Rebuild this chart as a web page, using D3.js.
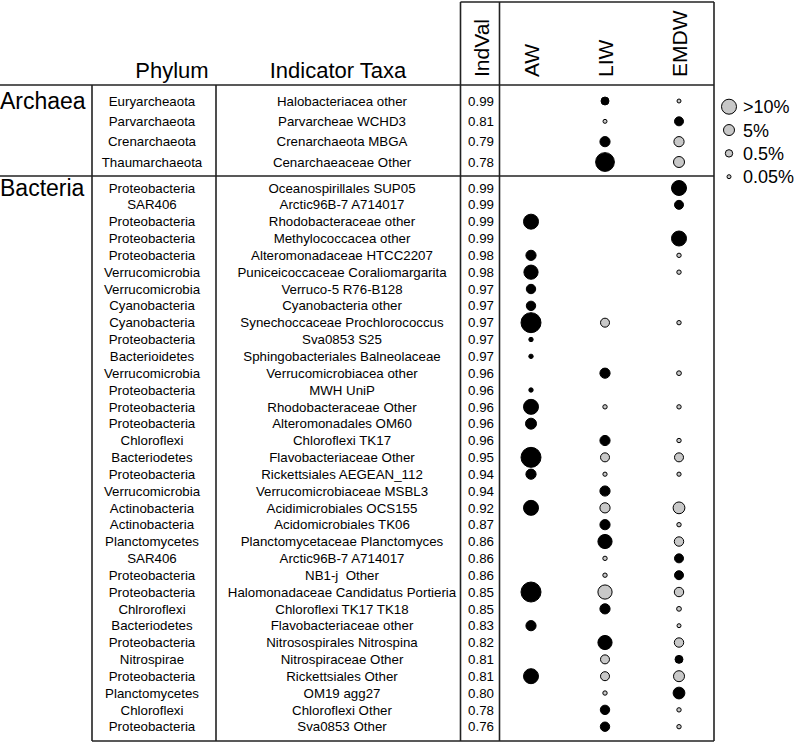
<!DOCTYPE html>
<html>
<head>
<meta charset="utf-8">
<script src="https://cdn.jsdelivr.net/npm/d3@7"></script>
<style>
  body { margin: 0; background: #fff; }
  text { font-family: "Liberation Sans", Arial, sans-serif; fill: #000; white-space: pre; }
</style>
</head>
<body>
<div id="chart"></div>
<script>
// water masses (columns)
const waterMasses = ["AW", "LIW", "EMDW"];

// Archaea block
const archaeaPhyla = ["Euryarcheaota", "Parvarchaeota", "Crenarchaeota", "Thaumarchaeota"];
const archaeaTaxa = ["Halobacteriacea other", "Parvarcheae WCHD3", "Crenarchaeota MBGA", "Cenarchaeaceae Other"];
const archaeaIndVal = ["0.99", "0.81", "0.79", "0.78"];
const archaeaIndicator = ["LIW", "EMDW", "LIW", "LIW"];
const archaeaAW = [null, null, null, null];
const archaeaLIW = [1.2, 0.05, 4, 25];
const archaeaEMDW = [0.05, 2.5, 4, 5];

// Bacteria block
const bacteriaPhyla = ["Proteobacteria", "SAR406", "Proteobacteria", "Proteobacteria", "Proteobacteria",
  "Verrucomicrobia", "Verrucomicrobia", "Cyanobacteria", "Cyanobacteria", "Proteobacteria",
  "Bacterioidetes", "Verrucomicrobia", "Proteobacteria", "Proteobacteria", "Proteobacteria",
  "Chloroflexi", "Bacteriodetes", "Proteobacteria", "Verrucomicrobia", "Actinobacteria",
  "Actinobacteria", "Planctomycetes", "SAR406", "Proteobacteria", "Proteobacteria",
  "Chlroroflexi", "Bacteriodetes", "Proteobacteria", "Nitrospirae", "Proteobacteria",
  "Planctomycetes", "Chloroflexi", "Proteobacteria"];
const bacteriaTaxa = ["Oceanospirillales SUP05", "Arctic96B-7 A714017", "Rhodobacteraceae other",
  "Methylococcacea other", "Alteromonadaceae HTCC2207", "Puniceicoccaceae Coraliomargarita",
  "Verruco-5 R76-B128", "Cyanobacteria other", "Synechoccaceae Prochlorococcus", "Sva0853 S25",
  "Sphingobacteriales Balneolaceae", "Verrucomicrobiacea other", "MWH UniP", "Rhodobacteraceae Other",
  "Alteromonadales OM60", "Chloroflexi TK17", "Flavobacteriaceae Other", "Rickettsiales AEGEAN_112",
  "Verrucomicrobiaceae MSBL3", "Acidimicrobiales OCS155", "Acidomicrobiales TK06",
  "Planctomycetaceae Planctomyces", "Arctic96B-7 A714017", "NB1-j  Other",
  "Halomonadaceae Candidatus Portieria", "Chloroflexi TK17 TK18", "Flavobacteriaceae other",
  "Nitrosospirales Nitrospina", "Nitrospiraceae Other", "Rickettsiales Other", "OM19 agg27",
  "Chloroflexi Other", "Sva0853 Other"];
const bacteriaIndVal = ["0.99", "0.99", "0.99", "0.99", "0.98", "0.98", "0.97", "0.97", "0.97", "0.97",
  "0.97", "0.96", "0.96", "0.96", "0.96", "0.96", "0.95", "0.94", "0.94", "0.92", "0.87", "0.86",
  "0.86", "0.86", "0.85", "0.85", "0.83", "0.82", "0.81", "0.81", "0.80", "0.78", "0.76"];
const bacteriaIndicator = ["EMDW", "EMDW", "AW", "EMDW", "AW", "AW", "AW", "AW", "AW", "AW",
  "AW", "LIW", "AW", "AW", "AW", "LIW", "AW", "AW", "LIW", "AW", "LIW", "LIW",
  "EMDW", "EMDW", "AW", "LIW", "AW", "LIW", "EMDW", "AW", "EMDW", "LIW", "LIW"];
// relative abundance (%) per water mass, null = not shown
const bacteriaAW = [null, null, 10, null, 4, 9, 3, 3, 30, 0.1,
  0.1, null, 0.1, 10, 5, null, 30, 4, null, 10, null, null,
  null, null, 30, null, 4, null, null, 10, null, null, null];
const bacteriaLIW = [null, null, null, null, null, null, null, null, 2.5, null,
  null, 4, null, 0.1, null, 4, 2.5, 0.08, 4, 4, 4, 9,
  0.1, 0.1, 9, 4, null, 9, 2.5, 2.5, 0.1, 3, 3];
const bacteriaEMDW = [10, 2.5, null, 10, 0.1, 0.1, null, null, 0.1, null,
  null, 0.15, null, 0.1, null, 0.1, 2.5, 0.08, null, 6, 0.1, 3,
  2.5, 2.5, 3, 0.15, 0.05, 3, 1.2, 5, 6, 0.1, 0.1];

// legend
const legendLabels = [">10%", "5%", "0.5%", "0.05%"];
const legendValues = [10, 5, 0.5, 0.05];

const width = 799, height = 743;
const svg = d3.select("#chart").append("svg")
  .attr("width", width).attr("height", height);

const xPhylum = 152, xTaxa = 342, xInd = 481;
const xLeft = 92, xMid = 216, xIndL = 460.5, xIndR = 499.5, xRight = 714;
const yTop = 2, yHead = 85, ySplit = 176, yBottom = 741;

const x = d3.scalePoint().domain(waterMasses).range([531, 679]);
const yA = d3.scaleLinear().domain([0, archaeaTaxa.length - 1]).range([101, 162]);
const yB = d3.scaleLinear().domain([0, bacteriaTaxa.length - 1]).range([188, 726.7]);
const r = d3.scaleLinear().domain([0.05, 0.5, 5, 10, 30]).range([2, 3.7, 5.5, 7.5, 10]).clamp(true);

// grid lines
const lines = [
  [xIndL, yTop, xRight, yTop],
  [0, yHead, xRight, yHead],
  [0, ySplit, xRight, ySplit],
  [xLeft, yBottom, xRight, yBottom],
  [xLeft, yHead, xLeft, yBottom],
  [xMid, yHead, xMid, yBottom],
  [xIndL, yTop, xIndL, yBottom],
  [xIndR, yTop, xIndR, yBottom],
  [xRight, yTop, xRight, yBottom]
];
svg.selectAll("line.grid").data(lines).enter().append("line")
  .attr("class", "grid")
  .attr("x1", d => d[0]).attr("y1", d => d[1])
  .attr("x2", d => d[2]).attr("y2", d => d[3])
  .attr("stroke", "#222").attr("stroke-width", 1.6);

// headers
svg.append("text").attr("x", xPhylum + 20).attr("y", 78).attr("text-anchor", "middle")
  .style("font-size", "22px").text("Phylum");
svg.append("text").attr("x", xTaxa - 4).attr("y", 78).attr("text-anchor", "middle")
  .style("font-size", "22px").text("Indicator Taxa");

const rotHeads = [["IndVal", xInd]].concat(waterMasses.map(w => [w, x(w)]));
svg.selectAll("text.rot").data(rotHeads).enter().append("text")
  .attr("class", "rot")
  .attr("transform", d => `translate(${d[1] + 7.5},77) rotate(-90)`)
  .style("font-size", "21px")
  .text(d => d[0]);

// domain labels
svg.append("text").attr("x", 0).attr("y", 109).style("font-size", "23px").text("Archaea");
svg.append("text").attr("x", 0).attr("y", 196).style("font-size", "23px").text("Bacteria");

function drawBlock(cls, y, phyla, taxa, indval, indicator, cols) {
  const g = svg.append("g").attr("class", cls);
  const rows = taxa.map((t, i) => ({ i, phylum: phyla[i], taxon: t, ind: indval[i] }));
  const text = (sel, xPos, key) => sel.selectAll(null).data(rows).enter().append("text")
    .attr("x", xPos).attr("y", d => y(d.i)).attr("dy", "0.35em")
    .attr("text-anchor", "middle").style("font-size", "13.3px").text(d => d[key]);
  text(g, xPhylum, "phylum");
  text(g, xTaxa, "taxon");
  text(g, xInd, "ind");

  const dots = [];
  waterMasses.forEach((w, c) => cols[c].forEach((v, i) => {
    if (v != null) dots.push({ w, i, v, black: indicator[i] === w });
  }));
  g.selectAll("circle").data(dots).enter().append("circle")
    .attr("cx", d => x(d.w)).attr("cy", d => y(d.i)).attr("r", d => r(d.v))
    .attr("fill", d => d.black ? "#000" : "#c8c8c8")
    .attr("stroke", "#000").attr("stroke-width", 1);
}

drawBlock("archaea", yA, archaeaPhyla, archaeaTaxa, archaeaIndVal, archaeaIndicator,
  [archaeaAW, archaeaLIW, archaeaEMDW]);
drawBlock("bacteria", yB, bacteriaPhyla, bacteriaTaxa, bacteriaIndVal, bacteriaIndicator,
  [bacteriaAW, bacteriaLIW, bacteriaEMDW]);

// legend
const yL = d3.scalePoint().domain(legendLabels).range([106.7, 176.7]);
const leg = svg.append("g").attr("class", "legend");
leg.selectAll("circle").data(legendLabels).enter().append("circle")
  .attr("cx", 729).attr("cy", d => yL(d)).attr("r", (d, i) => r(legendValues[i]))
  .attr("fill", "#c8c8c8").attr("stroke", "#000").attr("stroke-width", 1);
leg.selectAll("text").data(legendLabels).enter().append("text")
  .attr("x", 743).attr("y", d => yL(d)).attr("dy", "0.36em")
  .style("font-size", "18px").text(d => d);
</script>
</body>
</html>
